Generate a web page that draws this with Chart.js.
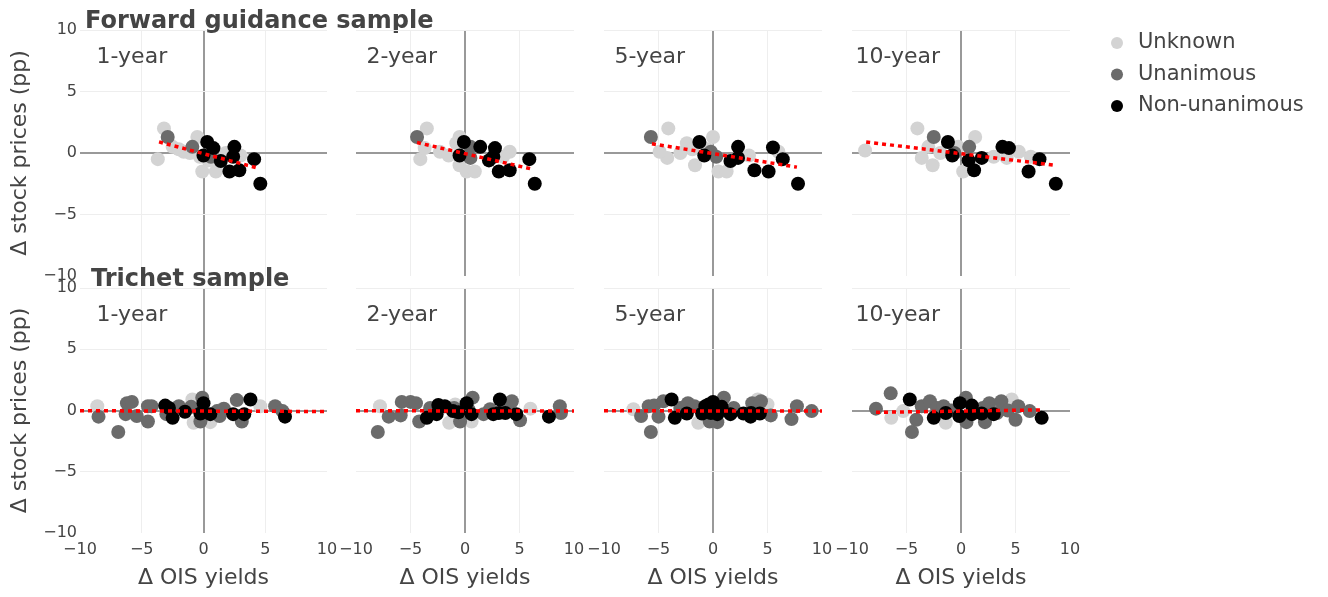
<!DOCTYPE html>
<html>
<head>
<meta charset="utf-8">
<title>Stock prices vs OIS yields</title>
<script src="https://cdn.jsdelivr.net/npm/chart.js@4.4.1/dist/chart.umd.min.js"></script>
<style>
  html, body { margin: 0; padding: 0; background: #ffffff; }
  body { width: 1328px; height: 597px; position: relative; overflow: hidden; }
  canvas { position: absolute; }
</style>
</head>
<body>
<script>
// ---- labels ----
const samples = ['Forward guidance sample', 'Trichet sample'];
const maturities = ['1-year', '2-year', '5-year', '10-year'];
const groups = ['Unknown', 'Unanimous', 'Non-unanimous'];
const groupColors = ['#d3d3d3', '#6b6b6b', '#000000'];
const axisTicks = [-10, -5, 0, 5, 10];
const xTitle = 'Δ OIS yields';
const yTitle = 'Δ stock prices (pp)';

// ---- forward guidance sample: [Δ OIS yield, Δ stock price] ----
const fg1yUnknown = [[-3.2, 2.0], [-3.7, -0.5], [-2.5, 0.5], [-1.6, 0.1], [-0.5, 1.3], [-0.1, -1.5], [1.0, -1.5], [3.0, -0.2], [-1.1, 0.0], [-0.3, -0.3], [0.4, -0.6], [1.8, 0.0], [-2.0, 0.3]];
const fg1yUnanimous = [[-2.9, 1.3], [-0.9, 0.5], [0.6, -0.3]];
const fg1yNonUnanimous = [[0.3, 0.9], [0.8, 0.4], [0.0, -0.2], [1.4, -0.65], [2.5, 0.5], [2.4, -0.3], [2.1, -1.5], [2.9, -1.4], [4.1, -0.5], [4.6, -2.5]];
const fg1yFit = [[-3.6, 0.9], [4.5, -1.25]];

const fg2yUnknown = [[-3.5, 2.0], [-4.1, -0.5], [-3.7, 0.4], [-2.3, 0.1], [-1.5, -0.2], [-0.5, 1.3], [-0.8, 0.8], [-0.5, -1.0], [0.15, -1.5], [0.9, -1.5], [4.1, 0.1], [3.5, -0.3], [-0.2, 0.3]];
const fg2yUnanimous = [[-4.4, 1.3], [0.5, 0.5], [0.5, -0.4]];
const fg2yNonUnanimous = [[-0.1, 0.9], [-0.5, -0.2], [1.4, 0.5], [2.75, 0.4], [2.2, -0.6], [2.6, -0.3], [3.1, -1.5], [4.1, -1.4], [5.9, -0.5], [6.4, -2.5]];
const fg2yFit = [[-4.4, 0.85], [6.1, -1.3]];

const fg5yUnknown = [[-4.1, 2.0], [-4.2, -0.4], [-4.9, 0.1], [-3.0, 0.0], [-2.4, 0.8], [-1.65, -1.0], [0.0, 1.3], [0.5, -1.5], [1.25, -1.5], [-1.9, 0.3], [3.3, -0.2], [6.0, 0.1], [-0.5, 0.3]];
const fg5yUnanimous = [[-5.7, 1.3], [0.3, -0.3], [-0.2, 0.1]];
const fg5yNonUnanimous = [[-1.25, 0.9], [-0.8, -0.2], [1.6, -0.65], [2.3, 0.5], [2.3, -0.4], [3.8, -1.4], [5.1, -1.5], [5.5, 0.45], [6.4, -0.5], [7.8, -2.5]];
const fg5yFit = [[-5.6, 0.75], [7.7, -1.15]];

const fg10yUnknown = [[-8.8, 0.2], [-4.0, 2.0], [-3.6, -0.4], [-2.6, -1.0], [-3.0, 0.5], [-1.9, 0.0], [-0.25, 0.5], [1.3, 1.3], [0.2, -1.5], [3.0, -0.3], [4.2, -0.4], [5.3, 0.1], [6.4, -0.3]];
const fg10yUnanimous = [[-2.5, 1.3], [0.75, 0.5], [-0.6, 0.0]];
const fg10yNonUnanimous = [[-1.2, 0.9], [-0.8, -0.2], [0.7, -0.6], [1.2, -1.4], [1.9, -0.4], [3.8, 0.5], [4.4, 0.4], [6.2, -1.5], [7.2, -0.5], [8.7, -2.5]];
const fg10yFit = [[-8.7, 0.9], [8.6, -1.0]];

// ---- Trichet sample ----
const tr1yUnknown = [[-8.6, 0.35], [-0.9, 0.9], [-0.8, -1.0], [0.55, -0.95], [4.6, 0.35], [-1.2, 0.2], [1.5, 0.1]];
const tr1yUnanimous = [[-8.5, -0.5], [-6.9, -1.75], [-6.2, 0.6], [-5.8, 0.7], [-6.3, -0.3], [-5.4, -0.45], [-4.5, 0.35], [-4.2, 0.35], [-4.5, -0.9], [-2.0, 0.35], [-0.1, 1.05], [-0.25, -0.9], [1.1, -0.05], [1.65, 0.15], [1.3, -0.45], [2.7, 0.85], [3.1, -0.9], [5.8, 0.35], [6.4, -0.05], [-3.0, -0.3], [-1.0, 0.3]];
const tr1yNonUnanimous = [[-3.1, 0.4], [-2.8, 0.2], [-2.5, -0.6], [-1.5, -0.1], [0.0, 0.6], [-0.25, -0.25], [0.55, -0.3], [2.4, -0.3], [3.3, -0.3], [3.8, 0.9], [6.6, -0.5]];
const tr1yFit = [[-10, -0.02], [10, -0.08]];

const tr2yUnknown = [[-7.8, 0.35], [-1.45, -1.0], [0.6, -0.9], [6.0, 0.15], [-0.9, 0.5]];
const tr2yUnanimous = [[-8.0, -1.75], [-7.0, -0.5], [-5.8, 0.7], [-5.0, 0.7], [-5.9, -0.4], [-4.5, 0.6], [-4.2, -0.9], [-3.2, 0.2], [-0.45, -0.9], [0.7, 1.05], [1.7, -0.3], [2.3, 0.1], [4.3, 0.75], [3.8, 0.35], [5.05, -0.8], [8.7, 0.35], [8.8, -0.2], [-1.0, 0.2], [0.3, 0.1]];
const tr2yNonUnanimous = [[-3.5, -0.6], [-2.45, 0.45], [-1.85, 0.35], [-2.6, -0.3], [-1.1, -0.05], [-0.6, -0.15], [0.15, 0.6], [0.6, -0.3], [2.6, -0.3], [3.2, 0.9], [3.1, -0.2], [3.7, -0.2], [4.7, -0.3], [7.7, -0.5]];
const tr2yFit = [[-10, -0.02], [10, -0.05]];

const tr5yUnknown = [[-7.3, 0.1], [-3.0, -0.1], [-1.35, -1.0], [5.0, 0.5], [4.1, 0.9]];
const tr5yUnanimous = [[-6.6, -0.45], [-5.9, 0.35], [-5.4, 0.4], [-5.7, -1.75], [-5.0, -0.5], [-4.55, 0.75], [-3.0, 0.2], [-2.3, 0.6], [-1.7, 0.35], [-0.3, -0.9], [0.4, -0.95], [1.0, 1.05], [1.9, 0.2], [3.6, 0.6], [4.4, 0.75], [4.1, 0.35], [5.3, -0.4], [7.2, -0.7], [7.7, 0.35], [9.05, -0.05]];
const tr5yNonUnanimous = [[-3.8, 0.9], [-3.5, -0.6], [-2.4, -0.25], [-1.0, -0.25], [-0.7, 0.35], [-0.4, 0.5], [0.0, 0.7], [-0.2, -0.2], [0.4, -0.3], [0.8, 0.3], [1.6, -0.3], [2.8, -0.25], [3.45, -0.5], [3.5, -0.2], [4.3, -0.25]];
const tr5yFit = [[-10, -0.02], [10, -0.05]];

const tr10yUnknown = [[-6.4, -0.6], [-5.3, -0.05], [-1.4, -1.0], [4.65, 0.9]];
const tr10yUnanimous = [[-7.8, 0.15], [-6.45, 1.4], [-4.5, -1.75], [-4.1, -0.75], [-3.6, 0.35], [-2.85, 0.75], [-2.2, 0.2], [-1.6, 0.35], [-0.9, 0.0], [0.45, 1.05], [0.5, -0.95], [2.2, -0.95], [2.6, 0.6], [2.0, 0.2], [3.3, -0.2], [3.7, 0.75], [4.3, 0.0], [5.25, 0.35], [5.0, -0.75], [6.3, -0.05]];
const tr10yNonUnanimous = [[-4.7, 0.9], [-2.5, -0.6], [-1.4, -0.2], [-0.1, 0.6], [-0.15, -0.45], [1.0, 0.4], [1.0, -0.3], [1.9, -0.25], [3.0, -0.3], [7.4, -0.6]];
const tr10yFit = [[-7.8, -0.15], [7.4, 0.05]];

// ---- panel grid: rows = samples, columns = maturities ----
const panelData = [
  [[fg1yUnknown, fg1yUnanimous, fg1yNonUnanimous, fg1yFit],
   [fg2yUnknown, fg2yUnanimous, fg2yNonUnanimous, fg2yFit],
   [fg5yUnknown, fg5yUnanimous, fg5yNonUnanimous, fg5yFit],
   [fg10yUnknown, fg10yUnanimous, fg10yNonUnanimous, fg10yFit]],
  [[tr1yUnknown, tr1yUnanimous, tr1yNonUnanimous, tr1yFit],
   [tr2yUnknown, tr2yUnanimous, tr2yNonUnanimous, tr2yFit],
   [tr5yUnknown, tr5yUnanimous, tr5yNonUnanimous, tr5yFit],
   [tr10yUnknown, tr10yUnanimous, tr10yNonUnanimous, tr10yFit]]
];

// ---- page geometry (plot areas in page pixels) ----
const colLeft = [80, 356, 604, 852];
const colWidth = [247, 218, 218, 218];
const rowTop = [30, 288];
const rowHeight = [246, 245];
const labelAt = [-5.8, 7.8];   // maturity label position in data units

Chart.defaults.font.family = '"DejaVu Sans", Verdana, sans-serif';
Chart.defaults.color = '#444';

const fmtTick = v => (v < 0 ? '\u2212' + Math.abs(v) : String(v));
const toXY = arr => arr.map(p => ({ x: p[0], y: p[1] }));

const panelText = {
  id: 'panelText',
  afterDraw(chart, args, opts) {
    const { ctx, scales: { x, y }, chartArea } = chart;
    ctx.save();
    ctx.fillStyle = '#444';
    if (opts.label) {
      ctx.font = '22px "DejaVu Sans", Verdana, sans-serif';
      ctx.textAlign = 'center';
      ctx.textBaseline = 'middle';
      ctx.fillText(opts.label, x.getPixelForValue(labelAt[0]), y.getPixelForValue(labelAt[1]));
    }
    if (opts.heading) {
      ctx.font = 'bold 24px "DejaVu Sans", Verdana, sans-serif';
      ctx.textAlign = 'left';
      ctx.textBaseline = 'alphabetic';
      ctx.fillText(opts.heading, chartArea.left + opts.headingDx, chartArea.top - 2);
    }
    ctx.restore();
  }
};

// grid: zero lines darker, no lines on the outer x edges or the bottom y edge
function xGridColor(ctx) {
  const v = ctx.tick ? ctx.tick.value : null;
  if (v === 0) return '#999999';
  if (v === -10 || v === 10) return 'rgba(0,0,0,0)';
  return '#eeeeee';
}
function yGridColor(ctx) {
  const v = ctx.tick ? ctx.tick.value : null;
  if (v === 0) return '#999999';
  if (v === -10) return 'rgba(0,0,0,0)';
  return '#eeeeee';
}
function gridWidth(ctx) { return ctx.tick && ctx.tick.value === 0 ? 2 : 1; }

function makePanel(row, col) {
  const first = col === 0;
  const bottom = row === 1;
  const padL = first ? 73 : 30;
  const padR = first ? 120 : 30;
  const padT = 30;
  const padB = bottom ? 58 : 20;
  const canvas = document.createElement('canvas');
  const w = colWidth[col] + padL + padR;
  const h = rowHeight[row] + padT + padB;
  canvas.width = w; canvas.height = h;
  canvas.style.left = (colLeft[col] - padL) + 'px';
  canvas.style.top = (rowTop[row] - padT) + 'px';
  canvas.style.width = w + 'px'; canvas.style.height = h + 'px';
  document.body.appendChild(canvas);

  const [unk, una, non, fit] = panelData[row][col];
  const pointSets = [unk, una, non];
  const datasets = pointSets.map((pts, g) => ({
    label: groups[g],
    data: toXY(pts),
    backgroundColor: groupColors[g],
    borderColor: groupColors[g],
    borderWidth: 0,
    pointRadius: 7,
    pointHoverRadius: 7,
    order: 3 - g
  }));
  datasets.push({
    label: 'fit',
    data: toXY(fit),
    showLine: true,
    borderColor: '#ff0000',
    borderWidth: 3.5,
    borderDash: [4, 4],
    pointRadius: 0,
    fill: false,
    order: 0
  });

  new Chart(canvas, {
    type: 'scatter',
    data: { datasets },
    plugins: [panelText],
    options: {
      responsive: false,
      animation: false,
      devicePixelRatio: 1,
      events: [],
      layout: { padding: { top: padT, right: padR, left: 0, bottom: 0 } },
      plugins: {
        legend: { display: false },
        tooltip: { enabled: false },
        panelText: {
          label: maturities[col],
          heading: first ? samples[row] : null,
          headingDx: row === 0 ? 5 : 11
        }
      },
      scales: {
        x: {
          type: 'linear',
          min: axisTicks[0], max: axisTicks[axisTicks.length - 1],
          afterBuildTicks: s => { s.ticks = axisTicks.map(v => ({ value: v })); },
          afterFit: s => { s.height = padB; },
          border: { display: false },
          grid: { color: xGridColor, lineWidth: gridWidth, drawTicks: false },
          ticks: {
            display: bottom, maxRotation: 0, autoSkip: false, padding: 7,
            font: { size: 16 }, color: '#444', callback: fmtTick
          },
          title: {
            display: bottom, text: xTitle, color: '#444',
            font: { size: 22 }, padding: 0
          }
        },
        y: {
          type: 'linear',
          min: axisTicks[0], max: axisTicks[axisTicks.length - 1],
          afterBuildTicks: s => { s.ticks = axisTicks.map(v => ({ value: v })); },
          afterFit: s => { s.width = padL; },
          border: { display: false },
          grid: { color: yGridColor, lineWidth: gridWidth, drawTicks: false },
          ticks: {
            display: first, padding: 3,
            font: { size: 16 }, color: '#444', callback: fmtTick
          },
          title: {
            display: first, text: yTitle, color: '#444',
            font: { size: 22 }, padding: 0
          }
        }
      }
    }
  });
}

for (let r = 0; r < samples.length; r++) {
  for (let c = 0; c < maturities.length; c++) makePanel(r, c);
}

// ---- legend (one entry per row) ----
(function () {
  const canvas = document.createElement('canvas');
  canvas.width = 232; canvas.height = 240;
  canvas.style.left = '1096px'; canvas.style.top = '22px';
  canvas.style.width = '232px'; canvas.style.height = '240px';
  document.body.appendChild(canvas);
  new Chart(canvas, {
    type: 'scatter',
    data: {
      datasets: groups.map((g, i) => ({
        label: g, data: [], backgroundColor: groupColors[i], borderColor: groupColors[i],
        borderWidth: 0, pointStyle: 'circle'
      }))
    },
    options: {
      responsive: false, animation: false, devicePixelRatio: 1, events: [],
      layout: { padding: 0 },
      scales: { x: { display: false }, y: { display: false } },
      plugins: {
        tooltip: { enabled: false },
        legend: {
          display: true, position: 'top', align: 'start',
          labels: {
            usePointStyle: true, pointStyle: 'circle',
            boxWidth: 21, boxHeight: 8.5, padding: 10.5,
            font: { size: 21 }, color: '#444'
          }
        }
      }
    }
  });
})();
</script>
</body>
</html>
